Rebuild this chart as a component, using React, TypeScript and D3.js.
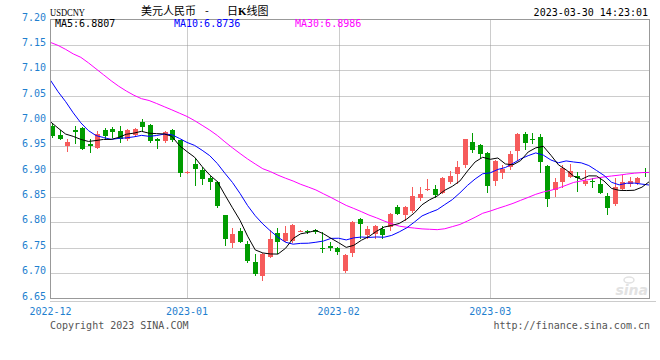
import React from 'react';
import * as d3 from 'd3';

// daily USDCNY candles, 2022-12 .. 2023-03-30
const opens = [
  6.990, 6.973, 6.950, 6.982, 6.987, 6.954, 6.947, 6.982, 6.984, 6.980,
  6.964, 6.972, 6.998, 6.992, 6.964, 6.960, 6.982, 6.962, 6.898, 6.915,
  6.903, 6.887, 6.879, 6.815, 6.759, 6.784, 6.758, 6.721, 6.694, 6.732,
  6.780, 6.764, 6.763, 6.783, 6.784, 6.786, 6.749, 6.754, 6.750, 6.704,
  6.739, 6.807, 6.776, 6.777, 6.787, 6.790, 6.831, 6.814, 6.822, 6.849,
  6.865, 6.866, 6.858, 6.879, 6.896, 6.913, 6.958, 6.953, 6.937, 6.882,
  6.897, 6.909, 6.941, 6.974, 6.964, 6.968, 6.911, 6.863, 6.880, 6.890,
  6.892, 6.875, 6.882, 6.876, 6.852, 6.836, 6.866, 6.875, 6.877, 6.899,
];
const highs = [
  6.996, 6.982, 6.964, 6.990, 6.988, 6.964, 6.980, 6.987, 6.988, 6.990,
  6.985, 6.987, 7.003, 6.994, 6.966, 6.981, 6.985, 6.963, 6.901, 6.926,
  6.910, 6.892, 6.882, 6.815, 6.789, 6.788, 6.763, 6.737, 6.739, 6.786,
  6.789, 6.792, 6.796, 6.786, 6.785, 6.787, 6.781, 6.761, 6.751, 6.737,
  6.802, 6.809, 6.792, 6.794, 6.793, 6.818, 6.835, 6.832, 6.869, 6.869,
  6.886, 6.874, 6.889, 6.901, 6.921, 6.965, 6.976, 6.955, 6.939, 6.923,
  6.914, 6.941, 6.976, 6.979, 6.976, 6.974, 6.913, 6.887, 6.913, 6.915,
  6.900, 6.903, 6.888, 6.887, 6.858, 6.887, 6.894, 6.890, 6.890, 6.907,
];
const lows = [
  6.969, 6.964, 6.941, 6.957, 6.944, 6.939, 6.946, 6.965, 6.969, 6.959,
  6.963, 6.971, 6.981, 6.959, 6.947, 6.959, 6.960, 6.892, 6.897, 6.874,
  6.876, 6.866, 6.830, 6.756, 6.751, 6.761, 6.722, 6.697, 6.687, 6.731,
  6.740, 6.763, 6.762, 6.783, 6.780, 6.780, 6.741, 6.746, 6.738, 6.703,
  6.733, 6.769, 6.769, 6.769, 6.769, 6.786, 6.816, 6.805, 6.820, 6.845,
  6.864, 6.851, 6.857, 6.878, 6.877, 6.909, 6.939, 6.929, 6.859, 6.873,
  6.888, 6.905, 6.923, 6.944, 6.956, 6.900, 6.833, 6.853, 6.869, 6.889,
  6.861, 6.874, 6.869, 6.857, 6.816, 6.835, 6.865, 6.872, 6.876, 6.892,
];
const closes = [
  6.971, 6.965, 6.959, 6.979, 6.944, 6.951, 6.974, 6.970, 6.979, 6.964,
  6.982, 6.985, 6.988, 6.960, 6.960, 6.979, 6.962, 6.897, 6.900, 6.905,
  6.886, 6.879, 6.833, 6.768, 6.778, 6.762, 6.723, 6.698, 6.738, 6.768,
  6.761, 6.780, 6.795, 6.784, 6.781, 6.781, 6.747, 6.750, 6.741, 6.735,
  6.801, 6.797, 6.787, 6.793, 6.776, 6.817, 6.817, 6.831, 6.853, 6.856,
  6.866, 6.854, 6.888, 6.892, 6.909, 6.964, 6.943, 6.934, 6.872, 6.922,
  6.905, 6.935, 6.975, 6.957, 6.963, 6.920, 6.847, 6.880, 6.908, 6.901,
  6.888, 6.882, 6.879, 6.858, 6.828, 6.869, 6.880, 6.882, 6.888, 6.897,
];

// moving averages as plotted
const ma5 = [
  6.9983, 6.9859, 6.9741, 6.9696, 6.9636, 6.9596, 6.9614, 6.9636, 6.9636, 6.9676,
  6.9738, 6.9760, 6.9796, 6.9758, 6.9750, 6.9744, 6.9698, 6.9516, 6.9396, 6.9286,
  6.9100, 6.8934, 6.8806, 6.8542, 6.8288, 6.8040, 6.7728, 6.7458, 6.7398, 6.7378,
  6.7376, 6.7490, 6.7684, 6.7776, 6.7802, 6.7842, 6.7776, 6.7686, 6.7600, 6.7508,
  6.7548, 6.7648, 6.7722, 6.7826, 6.7908, 6.7940, 6.7980, 6.8068, 6.8188, 6.8348,
  6.8446, 6.8520, 6.8634, 6.8712, 6.8818, 6.9014, 6.9192, 6.9284, 6.9244, 6.9270,
  6.9152, 6.9136, 6.9218, 6.9388, 6.9470, 6.9500, 6.9324, 6.9134, 6.9036, 6.8912,
  6.8848, 6.8918, 6.8916, 6.8816, 6.8670, 6.8632, 6.8628, 6.8634, 6.8694, 6.8807,
];
const ma10 = [
  7.0802, 7.0576, 7.0380, 7.0160, 6.9963, 6.9810, 6.9712, 6.9673, 6.9637, 6.9656,
  6.9667, 6.9687, 6.9716, 6.9697, 6.9713, 6.9741, 6.9729, 6.9656, 6.9577, 6.9518,
  6.9422, 6.9316, 6.9161, 6.8969, 6.8787, 6.8570, 6.8331, 6.8132, 6.7970, 6.7833,
  6.7708, 6.7609, 6.7571, 6.7587, 6.7590, 6.7609, 6.7633, 6.7685, 6.7688, 6.7655,
  6.7695, 6.7712, 6.7704, 6.7713, 6.7708, 6.7744, 6.7814, 6.7895, 6.8007, 6.8128,
  6.8193, 6.8250, 6.8351, 6.8450, 6.8583, 6.8730, 6.8856, 6.8959, 6.8978, 6.9044,
  6.9083, 6.9164, 6.9251, 6.9316, 6.9370, 6.9326, 6.9230, 6.9176, 6.9212, 6.9191,
  6.9174, 6.9121, 6.9025, 6.8926, 6.8791, 6.8740, 6.8773, 6.8775, 6.8755, 6.8736,
];
const ma30 = [
  7.1548, 7.1489, 7.1411, 7.1322, 7.1254, 7.1146, 7.1028, 7.0910, 7.0792, 7.0684,
  7.0590, 7.0507, 7.0439, 7.0403, 7.0344, 7.0281, 7.0219, 7.0154, 7.0089, 7.0007,
  6.9914, 6.9820, 6.9714, 6.9588, 6.9470, 6.9358, 6.9250, 6.9152, 6.9058, 6.9002,
  6.8932, 6.8871, 6.8816, 6.8751, 6.8697, 6.8640, 6.8564, 6.8491, 6.8412, 6.8335,
  6.8275, 6.8212, 6.8145, 6.8090, 6.8028, 6.7974, 6.7926, 6.7904, 6.7888, 6.7872,
  6.7865, 6.7857, 6.7875, 6.7917, 6.7960, 6.8028, 6.8101, 6.8180, 6.8224, 6.8276,
  6.8324, 6.8375, 6.8435, 6.8493, 6.8554, 6.8600, 6.8633, 6.8677, 6.8732, 6.8788,
  6.8817, 6.8845, 6.8876, 6.8897, 6.8915, 6.8932, 6.8953, 6.8970, 6.8982, 6.8986,
];

const monthStarts = [0, 18, 38, 58];
const monthLabels = ['2022-12', '2023-01', '2023-02', '2023-03'];
const yTicks = [7.2, 7.15, 7.1, 7.05, 7.0, 6.95, 6.9, 6.85, 6.8, 6.75, 6.7, 6.65];

const MONO = '"DejaVu Sans Mono", monospace';
const RED = '#f65b5b';
const GREEN = '#009c00';
const AXIS_BLUE = '#1f7fcf';

const App: React.FC = () => {
  const left = 50.5, right = 649.5, top = 19.5, bottom = 298.5;
  const idx = d3.range(closes.length);

  const y = d3.scaleLinear().domain([6.65, 7.2]).range([bottom, top]);
  const xb = d3.scaleBand<number>().domain(idx).range([49, 649]);
  const xp = d3.scalePoint<number>().domain(idx).range([left, right]);

  const line = d3.line<number>().x((_, i) => xp(i) as number).y(d => y(d));
  const last = ma5.length - 1;

  return (
    <svg width={660} height={360} style={{ position: 'absolute', left: 0, top: 0, background: '#fff' }}>
      {/* header */}
      <text x={50} y={15.5} fontFamily='"Liberation Serif", serif' fontSize={10} textLength={35} lengthAdjust="spacingAndGlyphs" fill="#000">USDCNY</text>
      <g fontFamily='"Noto Sans CJK SC", sans-serif' fontSize={11} fill="#000">
        <text x={141} y={14.5}>美元人民币</text>
        <text x={205} y={14.5}>-</text>
        <text x={227} y={14.5}>日<tspan fontWeight="bold" fontFamily='"Liberation Serif", serif'>K</tspan>线图</text>
      </g>
      <text x={648} y={15.5} textAnchor="end" fontFamily={MONO} fontSize={10} fill="#000">2023-03-30 14:23:01</text>

      {/* grid */}
      <g stroke="#999" strokeDasharray="1,1" strokeWidth={1}>
        {yTicks.slice(1, -1).map(t => (
          <line key={t} x1={left} x2={right} y1={Math.round(y(t)) + 0.5} y2={Math.round(y(t)) + 0.5} />
        ))}
        {monthStarts.slice(1).map(i => (
          <line key={i} x1={Math.round(xp(i) as number) + 0.5} x2={Math.round(xp(i) as number) + 0.5} y1={top} y2={bottom} />
        ))}
        <line x1={left} x2={656} y1={301.5} y2={301.5} />
      </g>

      {/* watermark */}
      <g fill="none" stroke="#e2e2e2">
        <ellipse cx={629} cy={280} rx={5} ry={3} strokeWidth={1.5} />
      </g>
      <text x={648} y={295} textAnchor="end" fontFamily='"DejaVu Sans", sans-serif' fontStyle="italic" fontWeight="bold" fontSize={14} fill="#e2e2e2">sina</text>

      {/* candles */}
      <g shapeRendering="crispEdges">
        {idx.map(i => {
          const o = opens[i], c = closes[i];
          const up = c >= o;
          const col = up ? RED : GREEN;
          const cx = (xb(i) as number) + xb.bandwidth() / 2;
          const bx = Math.round(cx - 2.5);
          const wx = Math.floor(cx) + 0.5;
          const yt = Math.round(y(Math.max(o, c)));
          const yb = Math.round(y(Math.min(o, c)));
          return (
            <g key={i}>
              <line x1={wx} x2={wx} y1={Math.round(y(highs[i]))} y2={Math.round(y(lows[i])) + 1} stroke={col} />
              <rect x={bx} y={yt} width={5} height={Math.max(1, yb - yt)} fill={col} />
            </g>
          );
        })}
      </g>

      {/* moving averages */}
      <path d={line(ma30) || ''} fill="none" stroke="#ff00ff" strokeWidth={1} />
      <path d={line(ma10) || ''} fill="none" stroke="#0000ff" strokeWidth={1} />
      <path d={line(ma5) || ''} fill="none" stroke="#000000" strokeWidth={1} />

      {/* frame */}
      <rect x={left} y={top} width={right - left} height={bottom - top} fill="none" stroke="#999" shapeRendering="crispEdges" />

      <g fontFamily={MONO} fontSize={10}>
        <text x={55} y={26.7} fill="#000">MA5:{ma5[last].toFixed(4)}</text>
        <text x={174} y={26.7} fill="#0000ff">MA10:{ma10[last].toFixed(4)}</text>
        <text x={295} y={26.7} fill="#ff00ff">MA30:{ma30[last].toFixed(4)}</text>
      </g>

      {/* y labels */}
      <g fontFamily={MONO} fontSize={10} fill={AXIS_BLUE} textAnchor="end">
        {yTicks.map(t => (
          <text key={t} x={46} y={y(t) + 1}>{t.toFixed(2)}</text>
        ))}
      </g>

      {/* x labels */}
      <g fontFamily={MONO} fontSize={10} fill={AXIS_BLUE} textAnchor="middle">
        {monthStarts.map((i, k) => (
          <text key={i} x={xp(i) as number} y={315}>{monthLabels[k]}</text>
        ))}
      </g>

      <g fontFamily={MONO} fontSize={10} fill="#555">
        <text x={50} y={329}>Copyright 2023 SINA.COM</text>
        <text x={650} y={329} textAnchor="end">http://finance.sina.com.cn</text>
      </g>
    </svg>
  );
};

export default App;
